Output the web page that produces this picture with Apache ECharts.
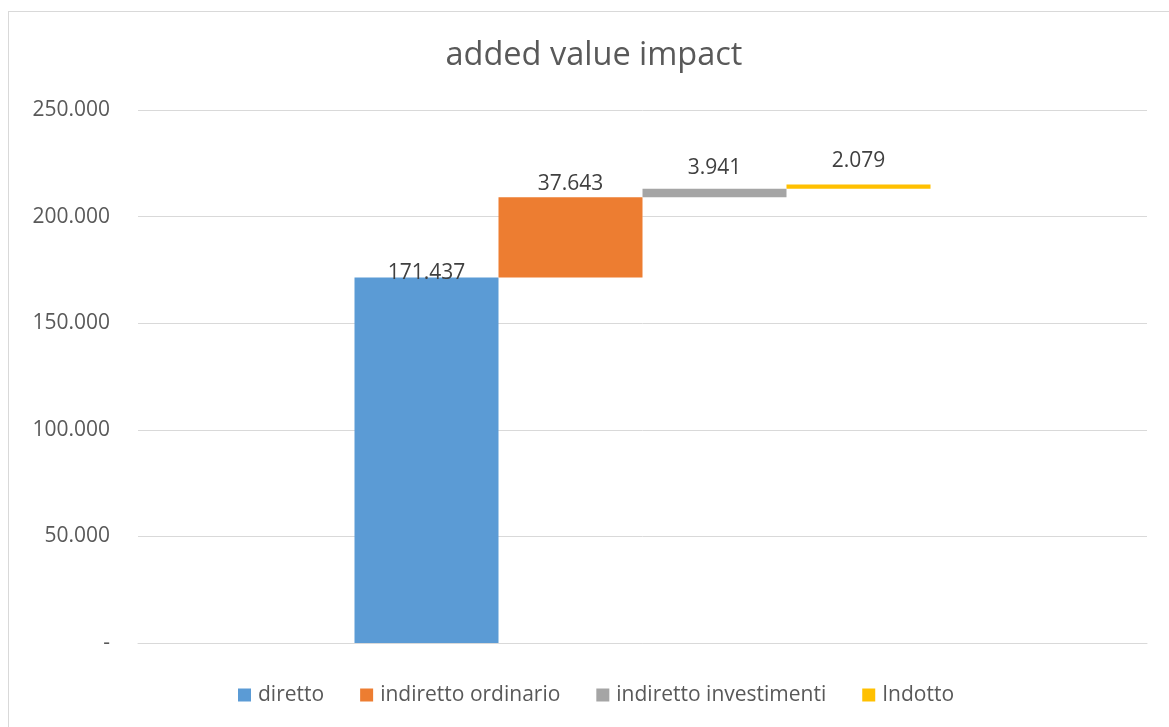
<!DOCTYPE html>
<html>
<head>
<meta charset="utf-8">
<script src="https://cdn.jsdelivr.net/npm/echarts@6/dist/echarts.min.js"></script>
<style>
  html, body { margin: 0; padding: 0; background: #fff; }
  #frame {
    position: absolute; left: 8px; top: 11px; width: 1200px; height: 760px;
    border: 1px solid #d9d9d9; box-sizing: border-box;
  }
  #chart { position: absolute; left: 0; top: 0; width: 1169px; height: 727px; }
</style>
</head>
<body>
<div id="frame"></div>
<div id="chart"></div>
<script>
const seriesNames = ['diretto', 'indiretto ordinario', 'indiretto investimenti', 'Indotto'];
const seriesValues = [171437, 37643, 3941, 2079];
const seriesColors = ['#5B9BD5', '#ED7D31', '#A5A5A5', '#FFC000'];
const categories = [''];
const yTicks = { min: 0, max: 250000, interval: 50000 };

// waterfall: each step starts where the previous one ended
const bases = [];
let running = 0;
seriesValues.forEach(function (v) { bases.push(running); running += v; });

function fmt(n) {
  if (n === 0) return '-';
  return String(Math.round(n)).replace(/\B(?=(\d{3})+(?!\d))/g, '.');
}

// vertical nudges for the value labels (Excel placed them a bit unevenly)
const labelOffsets = [[0, 6], [0, -3], [0, -10], [0, -13]];
const font = 'Open Sans';
const textSize = 21;

const series = [];
seriesNames.forEach(function (name, i) {
  series.push({
    name: 'base' + i,
    type: 'bar',
    stack: 's' + i,
    barWidth: 144,
    barGap: '0%',
    silent: true,
    itemStyle: { color: 'transparent' },
    data: [bases[i]]
  });
  series.push({
    name: name,
    type: 'bar',
    stack: 's' + i,
    barWidth: 144,
    barGap: '0%',
    itemStyle: { color: seriesColors[i] },
    label: {
      show: true,
      position: 'top',
      distance: 0,
      offset: labelOffsets[i],
      color: '#404040',
      fontFamily: font,
      fontSize: textSize,
      formatter: function (p) { return fmt(p.value); }
    },
    data: [seriesValues[i]]
  });
});

const chart = echarts.init(document.getElementById('chart'), null, { renderer: 'canvas' });
chart.setOption({
  animation: false,
  title: {
    text: 'added value impact',
    left: 589,
    textAlign: 'center',
    top: 34,
    textStyle: { fontFamily: font, fontSize: 32.5, fontWeight: 'normal', color: '#595959' }
  },
  legend: {
    data: seriesNames,
    left: 238,
    top: 684,
    padding: 0,
    icon: 'rect',
    itemWidth: 13,
    itemHeight: 13,
    itemGap: 36,
    textStyle: { fontFamily: font, fontSize: textSize, lineHeight: 22, color: '#595959', padding: [0, 0, 0, 2] }
  },
  grid: { left: 138, right: 22, top: 110, bottom: 84, containLabel: false },
  xAxis: {
    type: 'category',
    data: categories,
    axisLine: { show: true, lineStyle: { color: '#d9d9d9', width: 1 } },
    axisTick: { show: false },
    axisLabel: { show: false }
  },
  yAxis: {
    type: 'value',
    min: yTicks.min,
    max: yTicks.max,
    interval: yTicks.interval,
    axisLine: { show: false },
    axisTick: { show: false },
    splitLine: { lineStyle: { color: '#d9d9d9', width: 1 } },
    axisLabel: {
      margin: 28,
      color: '#595959',
      fontFamily: font,
      fontSize: textSize,
      formatter: function (v) { return fmt(v); }
    }
  },
  series: series
});
</script>
</body>
</html>
